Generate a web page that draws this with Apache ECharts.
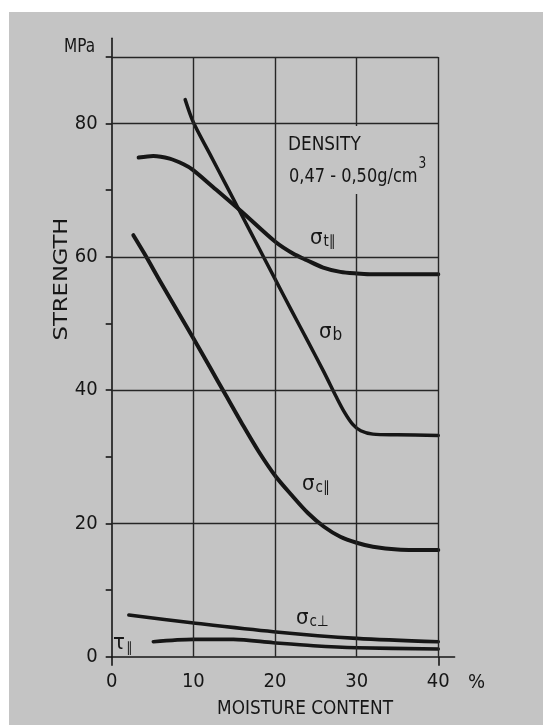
<!DOCTYPE html>
<html>
<head>
<meta charset="utf-8">
<script src="https://cdn.jsdelivr.net/npm/echarts@6/dist/echarts.min.js"></script>
<style>
html,body{margin:0;padding:0;background:#fff;}
#chart{width:543px;height:725px;}
</style>
</head>
<body>
<div id="chart"></div>
<script>
// ---- axis ticks ----
const xTickLabels = [0, 10, 20, 30, 40];
const xEdgeTicks = [0, 40];
const yTickLabels = [0, 20, 40, 60, 80];
const yTicks = [0, 10, 20, 30, 40, 50, 60, 70, 80, 90];
const hGridValues = [20, 40, 60, 80, 90];
const vGridValues = [10, 20, 30, 40];

// ---- series (moisture %, strength MPa) ----
const sigmaB = [[9,83.6],[10,80.2],[12,75.5],[14,70.8],[16,66.1],[18,61.4],[20,56.7],[22,52.0],[24,47.4],[26,42.7],[27.5,39.0],[28.5,36.7],[29.5,34.9],[30.5,33.9],[32,33.4],[35,33.3],[40,33.2]];
const sigmaTPar = [[3.3,74.9],[5.1,75.15],[7.1,74.75],[8.8,73.9],[9.9,73.1],[12.4,70.5],[15.9,66.8],[20,62.3],[22.2,60.5],[23.9,59.5],[25.9,58.4],[28,57.75],[30,57.5],[31.6,57.4],[35,57.4],[40,57.4]];
const sigmaCPar = [[2.65,63.25],[4,60.5],[6,56.2],[8,52.0],[10,47.8],[12,43.5],[14,39.2],[16,34.9],[18,30.8],[20,27.2],[22,24.3],[24,21.6],[26,19.5],[28,18.0],[30,17.1],[32,16.5],[35,16.1],[40,16.0]];
const sigmaCPerp = [[2.1,6.25],[9.8,5.1],[19.8,3.75],[30,2.75],[40,2.25]];
const tauPar = [[5.1,2.25],[10,2.6],[14.9,2.6],[19.8,2.1],[24.7,1.65],[30,1.35],[40,1.15]];

const FONT = '"DejaVu Sans Condensed","DejaVu Sans",sans-serif';
const INK = '#161616';
const BG = '#c4c4c4';

const gridLines = [];
hGridValues.forEach(v => gridLines.push([{coord:[0, v]}, {coord:[40, v]}]));
vGridValues.forEach(v => gridLines.push([{coord:[v, 0]}, {coord:[v, 90]}]));

function curve(data, w) {
  return {
    type: 'line', data: data, showSymbol: false, symbol: 'none',
    smooth: 0.3, z: 3, silent: true,
    lineStyle: {color: INK, width: w, cap: 'round', join: 'round'}
  };
}

function txt(x, y, text, size, opts, sx) {
  return {
    type: 'text', x: x, y: y, z: 100, silent: true, scaleX: sx || 1,
    style: Object.assign({text: text, font: size + 'px ' + FONT, fill: INK,
      textAlign: 'left', textVerticalAlign: 'middle'}, opts || {})
  };
}

// label with main glyph + subscript
function sub(x, y, main, subText, mainSize, subSize) {
  return {
    type: 'text', x: x, y: y, z: 100, silent: true,
    style: {
      text: '{m|' + main + '}{s|' + subText + '}',
      textAlign: 'left', textVerticalAlign: 'middle',
      rich: {
        m: {fontSize: mainSize, fontFamily: FONT, fill: INK, color: INK, lineHeight: 30, verticalAlign: 'middle'},
        s: {fontSize: subSize, fontFamily: FONT, fill: INK, color: INK, lineHeight: 30, verticalAlign: 'bottom', padding: [0, 0, 3, 1]}
      }
    }
  };
}

const chart = echarts.init(document.getElementById('chart'), null, {renderer: 'canvas'});
chart.setOption({
  backgroundColor: '#ffffff',
  animation: false,
  grid: {left: 111.7, top: 38.3, right: 88.4, bottom: 68.3, containLabel: false},
  xAxis: {
    type: 'value', min: 0, max: 42, interval: 10,
    axisLine: {show: true, lineStyle: {color: INK, width: 1.6}},
    axisTick: {show: true, customValues: xEdgeTicks, length: 9, inside: false, lineStyle: {color: INK, width: 1.6}},
    axisLabel: {show: true, customValues: xTickLabels, margin: 15, color: INK, fontSize: 20, fontFamily: FONT},
    splitLine: {show: false}
  },
  yAxis: {
    type: 'value', min: 0, max: 92.8, interval: 10,
    axisLine: {show: true, lineStyle: {color: INK, width: 1.6}},
    axisTick: {show: true, customValues: yTicks, length: 6, inside: false, lineStyle: {color: INK, width: 1.6}},
    axisLabel: {show: true, customValues: yTickLabels, margin: 14, color: INK, fontSize: 20, fontFamily: FONT},
    splitLine: {show: false}
  },
  graphic: [
    {type: 'rect', shape: {x: 9, y: 12, width: 534, height: 713}, style: {fill: BG}, z: -10, silent: true},
    // box behind density note (interrupts 30% gridline)
    {type: 'rect', shape: {x: 284, y: 126, width: 145, height: 68}, style: {fill: BG}, z: 90, silent: true},
    txt(95, 47, 'MPa', 20, {textAlign: 'right'}, 0.85),
    {type: 'text', x: 62, y: 279, rotation: Math.PI / 2, z: 100, silent: true, scaleX: 1.26,
      style: {text: 'STRENGTH', font: '20px ' + FONT, fill: INK, textAlign: 'center', textVerticalAlign: 'middle'}},
    txt(468, 683, '%', 20),
    txt(305, 709, 'MOISTURE CONTENT', 20, {textAlign: 'center'}, 0.94),
    txt(288, 145, 'DENSITY', 20, null, 0.94),
    {type: 'text', x: 289, y: 172, z: 100, silent: true, scaleX: 0.9,
      style: {text: '{a|0,47 - 0,50g/cm}{b|3}', textAlign: 'left', textVerticalAlign: 'middle',
        rich: {
          a: {fontSize: 20, fontFamily: FONT, fill: INK, color: INK, lineHeight: 30, verticalAlign: 'bottom'},
          b: {fontSize: 15, fontFamily: FONT, fill: INK, color: INK, lineHeight: 30, verticalAlign: 'top', padding: [0, 0, 0, 1]}
        }}},
    // curve labels
    sub(310, 238, 'σ', 't∥', 22, 15),
    sub(319, 332, 'σ', 'b', 22, 17),
    sub(302, 484, 'σ', 'c∥', 22, 15),
    sub(296, 618, 'σ', 'c⊥', 22, 15),
    sub(113, 643, 'τ', '∥', 22, 14)
  ],
  series: [
    {type: 'line', data: [], z: 1, silent: true,
      markLine: {silent: true, symbol: 'none', label: {show: false},
        lineStyle: {color: '#262626', width: 1.4, type: 'solid'}, data: gridLines, animation: false}},
    curve(sigmaTPar, 4),
    curve(sigmaB, 3.5),
    curve(sigmaCPar, 4),
    curve(sigmaCPerp, 3.6),
    curve(tauPar, 3.6)
  ]
});
</script>
</body>
</html>
